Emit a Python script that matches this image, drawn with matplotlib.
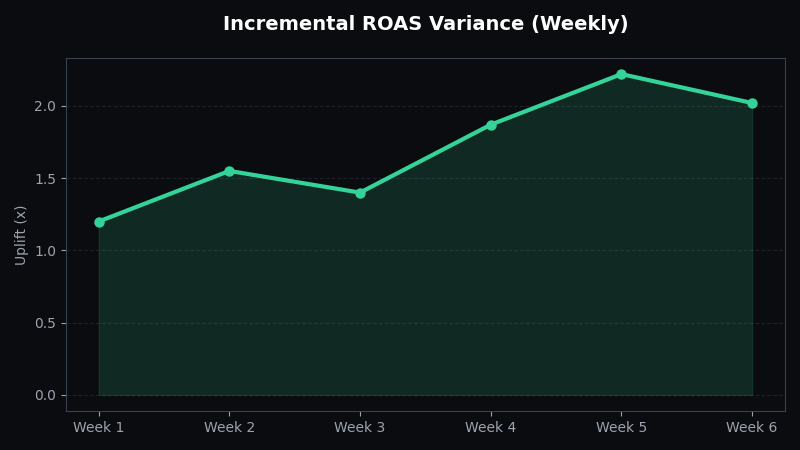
import matplotlib
matplotlib.use("Agg")
import matplotlib.pyplot as plt

weeks = ["Week 1", "Week 2", "Week 3", "Week 4", "Week 5", "Week 6"]
uplift = [1.20, 1.55, 1.40, 1.87, 2.22, 2.02]

bg = "#0b0c0f"
green = "#34d399"
muted = "#9ca3af"

fig = plt.figure(figsize=(8, 4.5), dpi=100, facecolor=bg)
ax = fig.add_axes([0.0825, 0.0867, 0.8985, 0.7843])
ax.set_facecolor(bg)

x = range(len(weeks))
ax.fill_between(x, uplift, 0, color=green, alpha=0.15, linewidth=0.8)
ax.plot(x, uplift, color=green, linewidth=3, marker="o", markersize=6.5)

ax.set_xticks(list(x))
ax.set_xticklabels(weeks)
ax.set_ylabel("Uplift (x)", color=muted, fontsize=10)
ax.tick_params(colors=muted, labelsize=10)
for s in ax.spines.values():
    s.set_color("#3a4250")
ax.grid(axis="y", color="#2a2f3a", linestyle="--", linewidth=0.8, alpha=0.6)
ax.set_axisbelow(True)

ax.set_title("Incremental ROAS Variance (Weekly)", color="white",
             fontsize=14, fontweight="bold", pad=20.5)

fig.savefig("out.png", facecolor=bg)
